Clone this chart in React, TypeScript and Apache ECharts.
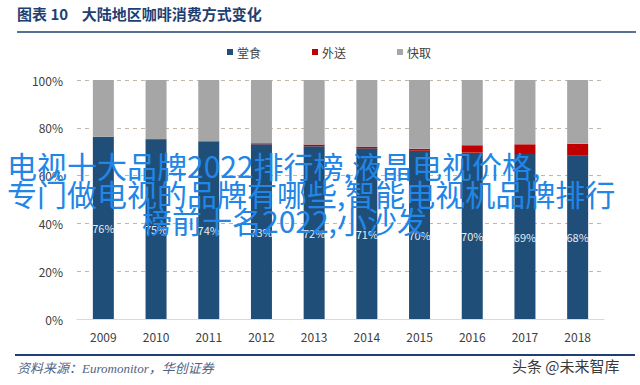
import React, { useEffect, useRef } from "react";
import * as echarts from "echarts";

const years = ["2009", "2010", "2011", "2012", "2013", "2014", "2015", "2016", "2017", "2018"];
const dineIn = [76.3, 75.2, 74.1, 73.1, 72.3, 71.4, 70.4, 69.6, 69.0, 68.3];
const delivery = [0, 0.1, 0.3, 0.4, 0.7, 0.7, 0.8, 3.1, 4.1, 5.0];
const takeaway = [23.7, 24.7, 25.6, 26.5, 27.0, 27.9, 28.8, 27.3, 26.9, 26.7];
const yTicks = [0, 20, 40, 60, 80, 100];
const seriesNames = ["堂食", "外送", "快取"];
const overlayLines = [
  "电视十大品牌2022排行榜,液晶电视价格,",
  "专门做电视的品牌有哪些,智能电视机品牌排行",
  "榜前十名2022,小沙发",
];

const CJK = '"Noto Sans CJK SC", "Noto Sans", sans-serif';

export default function App() {
  const ref = useRef<HTMLDivElement>(null);
  useEffect(() => {
    document.body.style.margin = "0";
    const chart = echarts.init(ref.current!, null, { renderer: "svg" });
    chart.setOption({
      animation: false,
      backgroundColor: "#ffffff",
      textStyle: { fontFamily: CJK },
      legend: {
        left: 222,
        top: 41,
        itemWidth: 6,
        itemHeight: 6,
        itemGap: 51,
        icon: "rect",
        textStyle: { fontSize: 12, color: "#404040", fontFamily: CJK, padding: [0, 0, 0, -1] },
        data: seriesNames,
      },
      grid: { left: 77, right: 36, top: 80, bottom: 66 },
      xAxis: {
        type: "category",
        data: years,
        axisLine: { show: true, lineStyle: { color: "#d9d9d9", width: 1 } },
        axisTick: { show: false },
        axisLabel: { fontSize: 12, color: "#404040", margin: 11, fontFamily: CJK },
      },
      yAxis: {
        type: "value",
        min: yTicks[0],
        max: yTicks[yTicks.length - 1],
        interval: 20,
        axisLine: { show: false },
        axisTick: { show: false },
        axisLabel: { fontSize: 12, color: "#404040", margin: 14, formatter: (v: number) => v + "%", fontFamily: CJK },
        splitLine: { show: true, lineStyle: { color: "#c2b6aa", type: [4, 4], width: 1 } },
      },
      series: [
        {
          name: seriesNames[0],
          type: "bar",
          stack: "all",
          barWidth: 21,
          data: dineIn,
          itemStyle: { color: "#1f4e79" },
          label: {
            show: true,
            position: "inside",
            color: "#e6ebf1",
            fontSize: 11,
            fontFamily: CJK,
            formatter: (p: any) => Math.round(p.value) + "%",
          },
        },
        {
          name: seriesNames[1],
          type: "bar",
          stack: "all",
          barWidth: 21,
          data: delivery,
          itemStyle: { color: "#c00000" },
        },
        {
          name: seriesNames[2],
          type: "bar",
          stack: "all",
          barWidth: 21,
          data: takeaway,
          itemStyle: { color: "#a6a6a6" },
        },
      ],
      graphic: [
        {
          type: "text",
          left: 17,
          top: 6,
          style: {
            text: "图表 10    大陆地区咖啡消费方式变化",
            fill: "#1f3f73",
            font: 'bold 15px "Noto Sans CJK SC", sans-serif',
          },
        },
        {
          type: "line",
          shape: { x1: 17, y1: 32, x2: 636, y2: 32 },
          style: { stroke: "#1f3f73", lineWidth: 1.5 },
        },
        {
          type: "line",
          shape: { x1: 15, y1: 355, x2: 635, y2: 355 },
          style: { stroke: "#1f3f73", lineWidth: 2 },
        },
        {
          type: "text",
          left: 17,
          top: 362,
          style: {
            text: "资料来源：Euromonitor，华创证券",
            fill: "#4f6484",
            font: 'italic 13px "Liberation Serif", "Noto Sans CJK SC", serif',
          },
        },
        {
          type: "text",
          left: 512,
          top: 358,
          style: {
            text: "头条 @未来智库",
            fill: "#3a3a3a",
            font: '15px "Noto Sans CJK SC", sans-serif',
          },
        },
        {
          type: "text",
          x: 7,
          y: 165,
          z: 200,
          zlevel: 1,
          style: {
            text: overlayLines[0],
            fill: "#2186e6",
            font: '30px "Noto Sans CJK SC", sans-serif',
            verticalAlign: "middle",
          },
        },
        {
          type: "text",
          x: 7,
          y: 193,
          z: 200,
          zlevel: 1,
          style: {
            text: overlayLines[1],
            fill: "#2186e6",
            font: '30px "Noto Sans CJK SC", sans-serif',
            verticalAlign: "middle",
          },
        },
        {
          type: "text",
          x: 142,
          y: 220,
          z: 200,
          zlevel: 1,
          style: {
            text: overlayLines[2],
            fill: "#2186e6",
            font: '30px "Noto Sans CJK SC", sans-serif',
            verticalAlign: "middle",
          },
        },
      ],
    });
    return () => chart.dispose();
  }, []);
  return <div ref={ref} style={{ position: "fixed", left: 0, top: 0, width: 640, height: 385 }} />;
}
